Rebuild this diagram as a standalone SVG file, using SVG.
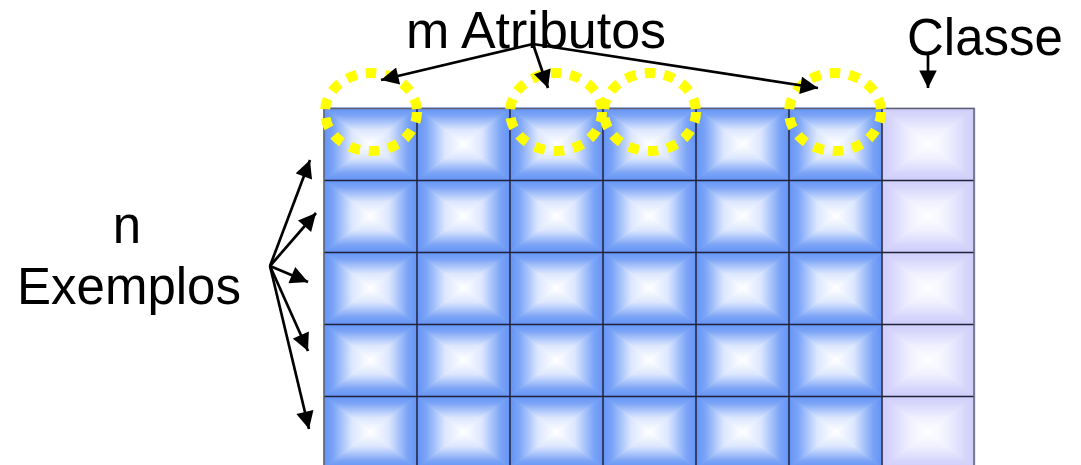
<svg xmlns="http://www.w3.org/2000/svg" xmlns:xlink="http://www.w3.org/1999/xlink" width="1081" height="465" viewBox="0 0 1081 465">
<style>
text{font-family:"Liberation Sans",Arial,sans-serif;font-size:51px;fill:#000}
.arr{stroke:#000;stroke-width:2.7;fill:none;marker-end:url(#ah)}
.ring{fill:none;stroke:#ffff00;stroke-width:10;stroke-dasharray:10.5 9}
.gl{stroke:#222238;stroke-width:1.5;fill:none}
#cellB polygon,#cellC polygon{stroke-width:1}
</style>
<defs>
<marker id="ah" viewBox="0 0 10 10" refX="10" refY="5" markerWidth="7" markerHeight="6.5" orient="auto" markerUnits="strokeWidth">
<path d="M0,0 L10,5 L0,10 z" fill="#000"/>
</marker>
<linearGradient id="bT" x1="0" y1="0" x2="0" y2="1"><stop offset="0" stop-color="#6494f6"/><stop offset="0.2" stop-color="#7ba4f7"/><stop offset="0.6" stop-color="#dbe6fe"/><stop offset="1" stop-color="#ffffff"/></linearGradient>
<linearGradient id="bB" x1="0" y1="1" x2="0" y2="0" href="#bT"/>
<linearGradient id="bL" x1="0" y1="0" x2="1" y2="0" href="#bT"/>
<linearGradient id="bR" x1="1" y1="0" x2="0" y2="0" href="#bT"/>
<linearGradient id="cT" x1="0" y1="0" x2="0" y2="1"><stop offset="0" stop-color="#cdcdfb"/><stop offset="0.2" stop-color="#d6d6fc"/><stop offset="0.6" stop-color="#f0f0ff"/><stop offset="1" stop-color="#ffffff"/></linearGradient>
<linearGradient id="cB" x1="0" y1="1" x2="0" y2="0" href="#cT"/>
<linearGradient id="cL" x1="0" y1="0" x2="1" y2="0" href="#cT"/>
<linearGradient id="cR" x1="1" y1="0" x2="0" y2="0" href="#cT"/>
<g id="cellB">
<polygon points="0,0 93,0 46.5,36" fill="url(#bT)" stroke="url(#bT)"/>
<polygon points="0,72 93,72 46.5,36" fill="url(#bB)" stroke="url(#bB)"/>
<polygon points="0,0 0,72 46.5,36" fill="url(#bL)" stroke="url(#bL)"/>
<polygon points="93,0 93,72 46.5,36" fill="url(#bR)" stroke="url(#bR)"/>
</g>
<g id="cellC">
<polygon points="0,0 93,0 46.5,36" fill="url(#cT)" stroke="url(#cT)"/>
<polygon points="0,72 93,72 46.5,36" fill="url(#cB)" stroke="url(#cB)"/>
<polygon points="0,0 0,72 46.5,36" fill="url(#cL)" stroke="url(#cL)"/>
<polygon points="93,0 93,72 46.5,36" fill="url(#cR)" stroke="url(#cR)"/>
</g>
</defs>
<rect width="1081" height="465" fill="#fff"/>
<g id="table">
<use href="#cellB" x="324" y="108"/><use href="#cellB" x="417" y="108"/><use href="#cellB" x="510" y="108"/><use href="#cellB" x="603" y="108"/><use href="#cellB" x="696" y="108"/><use href="#cellB" x="789" y="108"/><use href="#cellC" x="882" y="108"/>
<use href="#cellB" x="324" y="180"/><use href="#cellB" x="417" y="180"/><use href="#cellB" x="510" y="180"/><use href="#cellB" x="603" y="180"/><use href="#cellB" x="696" y="180"/><use href="#cellB" x="789" y="180"/><use href="#cellC" x="882" y="180"/>
<use href="#cellB" x="324" y="252"/><use href="#cellB" x="417" y="252"/><use href="#cellB" x="510" y="252"/><use href="#cellB" x="603" y="252"/><use href="#cellB" x="696" y="252"/><use href="#cellB" x="789" y="252"/><use href="#cellC" x="882" y="252"/>
<use href="#cellB" x="324" y="324"/><use href="#cellB" x="417" y="324"/><use href="#cellB" x="510" y="324"/><use href="#cellB" x="603" y="324"/><use href="#cellB" x="696" y="324"/><use href="#cellB" x="789" y="324"/><use href="#cellC" x="882" y="324"/>
<use href="#cellB" x="324" y="396"/><use href="#cellB" x="417" y="396"/><use href="#cellB" x="510" y="396"/><use href="#cellB" x="603" y="396"/><use href="#cellB" x="696" y="396"/><use href="#cellB" x="789" y="396"/><use href="#cellC" x="882" y="396"/>
<path class="gl" d="M324,180.5H974M324,252.5H974M324,324.5H974M324,396.5H974M417,108V465M510,108V465M603,108V465M696,108V465M789,108V465M882,108V465"/>
<path d="M324,465V108.5H974V465" fill="none" stroke="#606070" stroke-width="1.5"/>
</g>
<g id="rings">
<ellipse class="ring" cx="371" cy="112" rx="46" ry="39"/>
<ellipse class="ring" cx="556" cy="112" rx="46" ry="39"/>
<ellipse class="ring" cx="650" cy="112" rx="46" ry="39"/>
<ellipse class="ring" cx="835" cy="112" rx="46" ry="39"/>
</g>
<g id="labels">
<text x="406" y="48" style="font-size:52px">m Atributos</text>
<text x="907" y="55">Classe</text>
<text x="127" y="243" text-anchor="middle">n</text>
<text x="129" y="304" text-anchor="middle">Exemplos</text>
</g>
<g id="connectors">
<line class="arr" x1="533" y1="44" x2="381" y2="80"/>
<line class="arr" x1="533" y1="44" x2="548" y2="88"/>
<line class="arr" x1="533" y1="44" x2="818" y2="88"/>
<line class="arr" x1="928" y1="55" x2="928" y2="88"/>
<line class="arr" x1="270" y1="266" x2="310" y2="160"/>
<line class="arr" x1="270" y1="266" x2="316" y2="213"/>
<line class="arr" x1="270" y1="266" x2="308" y2="282"/>
<line class="arr" x1="270" y1="266" x2="308" y2="351"/>
<line class="arr" x1="270" y1="266" x2="309" y2="429"/>
</g>
</svg>
